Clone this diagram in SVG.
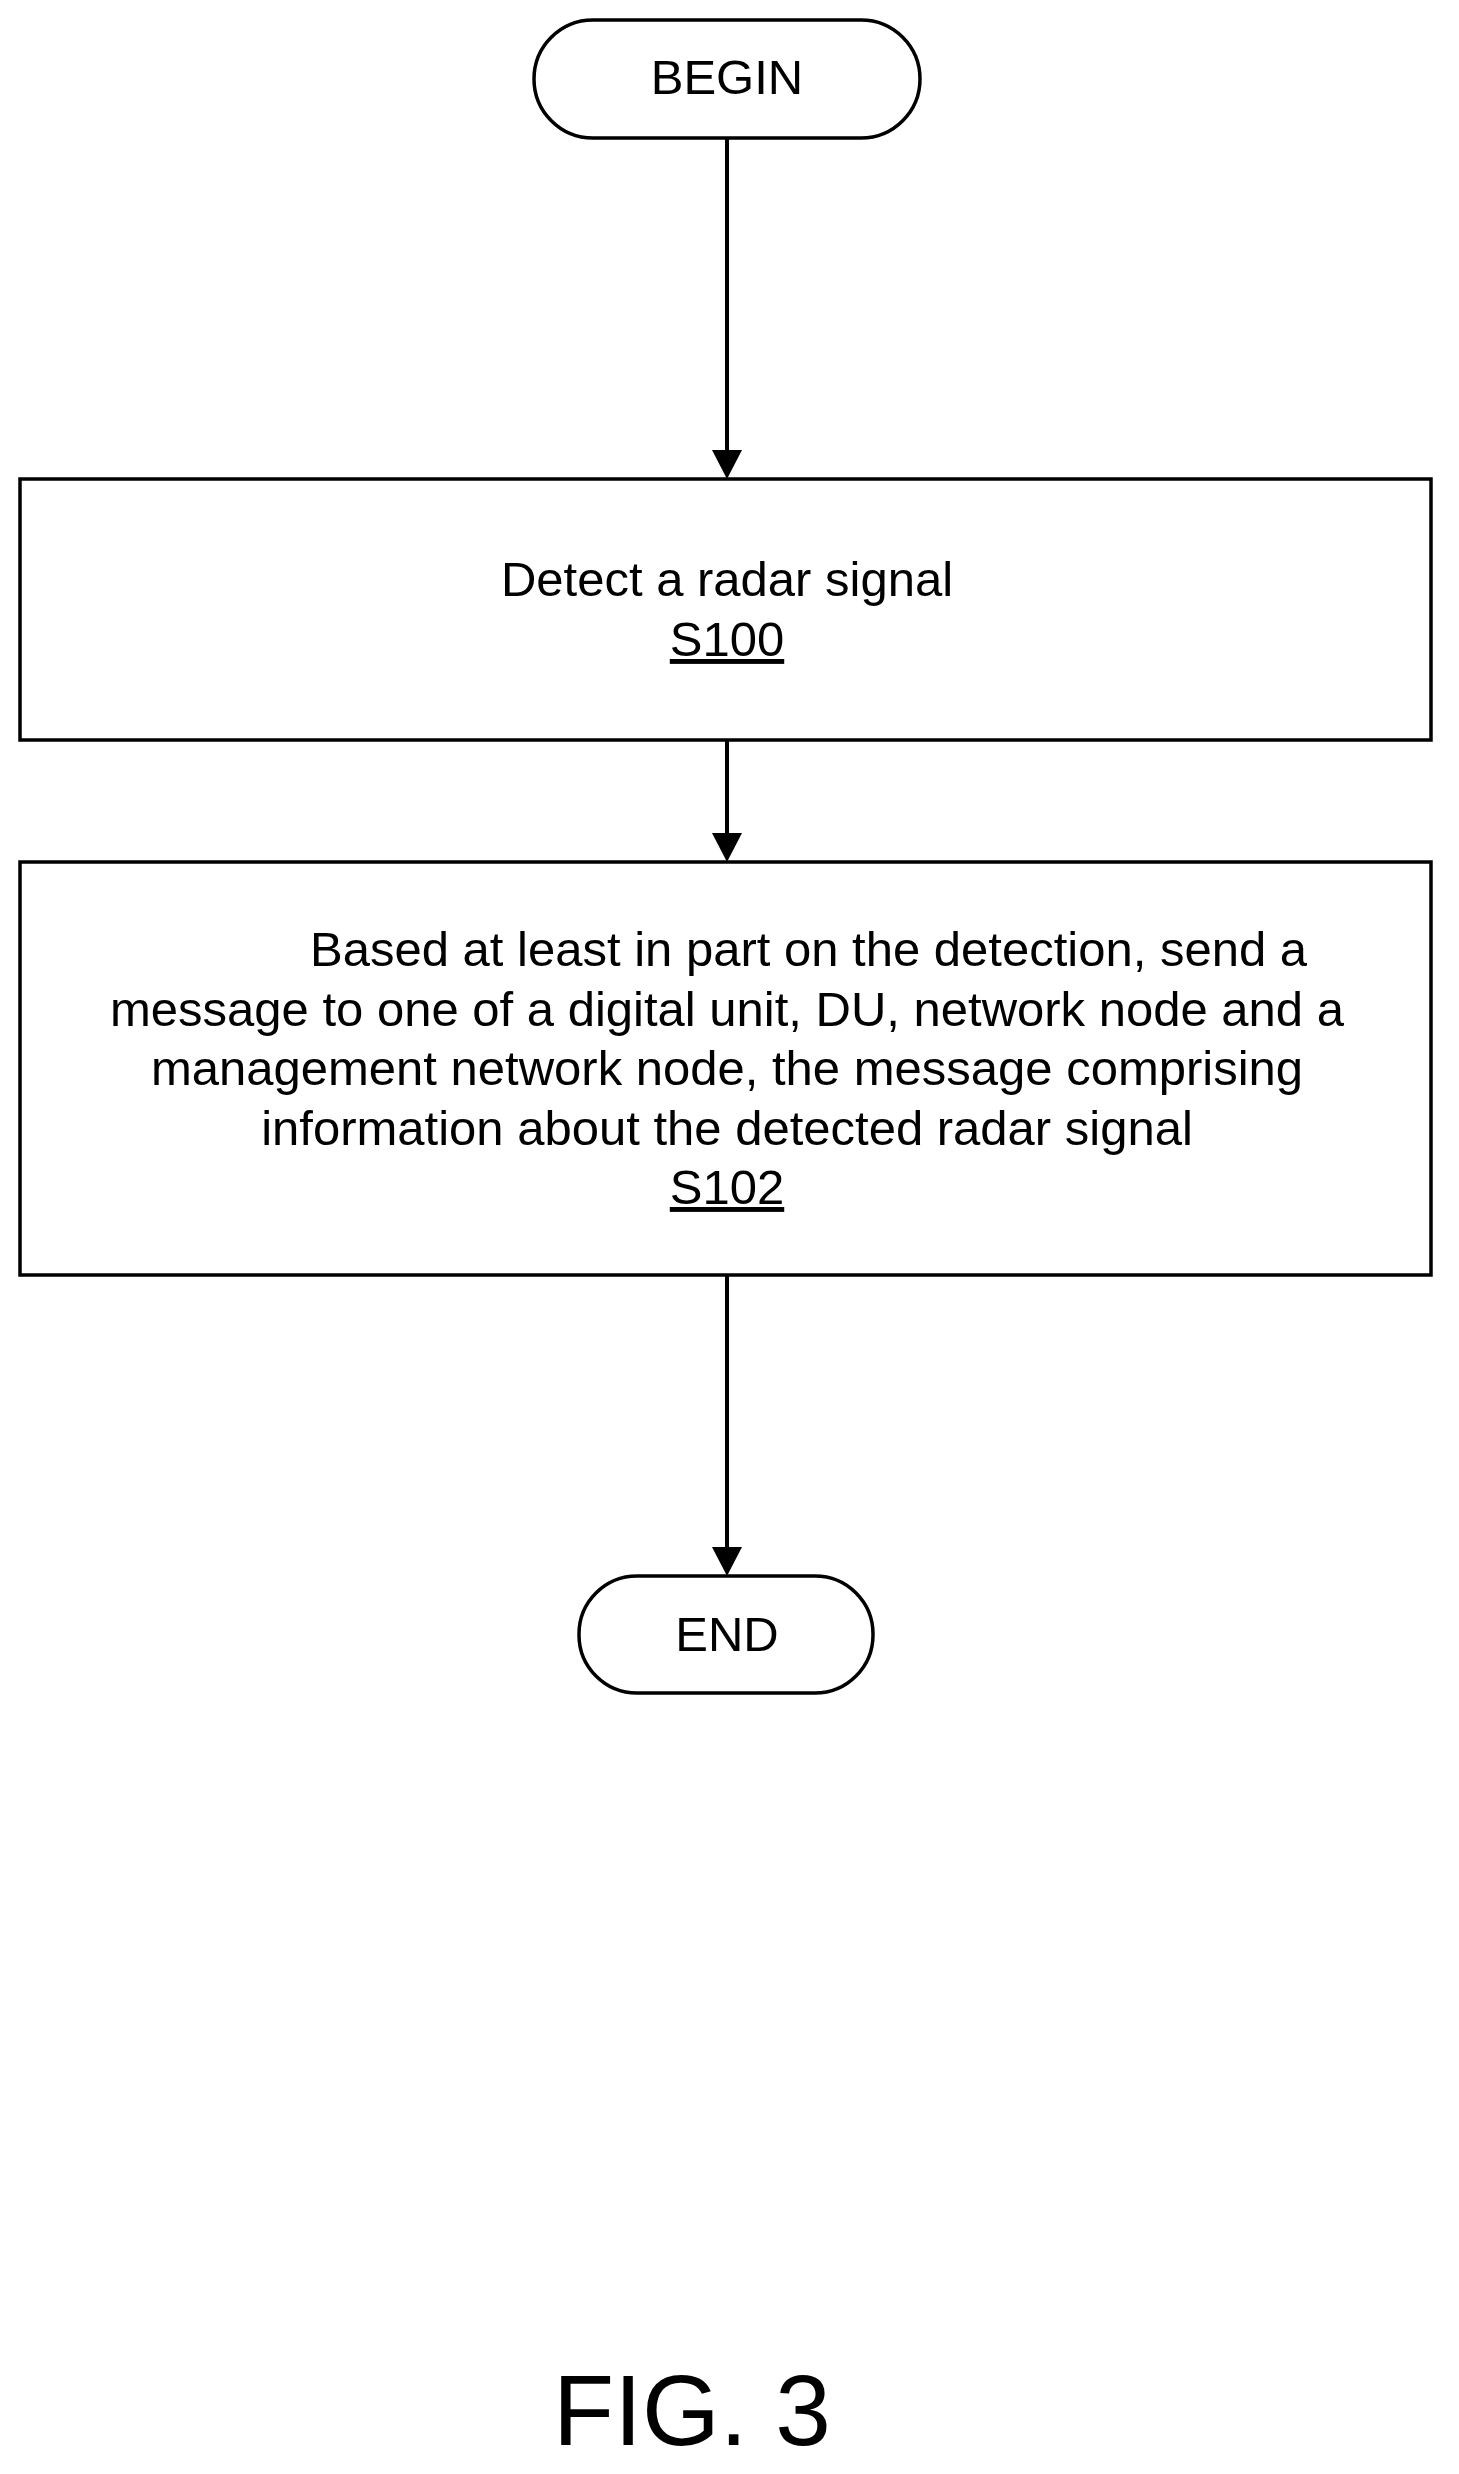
<svg xmlns="http://www.w3.org/2000/svg" width="1459" height="2474" viewBox="0 0 1459 2474">
<style>
.s{fill:#fff;stroke:#000;stroke-width:3.5}
text{font-family:"Liberation Sans",Arial,sans-serif;font-size:49px;fill:#000;text-anchor:middle}
.l{stroke:#000;stroke-width:4}
</style>
<rect width="1459" height="2474" fill="#fff"/>
<g id="connectors">
<line class="l" x1="727" y1="138" x2="727" y2="452"/><path d="M712,450L727,479L742,450z"/>
<line class="l" x1="727" y1="740" x2="727" y2="835"/><path d="M712,833L727,862L742,833z"/>
<line class="l" x1="727" y1="1275" x2="727" y2="1549"/><path d="M712,1547L727,1576L742,1547z"/>
</g>
<g id="begin"><rect class="s" x="534" y="20" width="386" height="118" rx="59"/><text x="727" y="94">BEGIN</text></g>
<g id="s100"><rect class="s" x="20" y="479" width="1411" height="261"/><text x="727" y="596">Detect a radar signal</text><text x="727" y="656" text-decoration="underline">S100</text></g>
<g id="s102"><rect class="s" x="20" y="862" width="1411" height="413"/>
<text x="310" y="966" style="text-anchor:start">Based at least in part on the detection, send a</text>
<text x="727" y="1026">message to one of a digital unit, DU, network node and a</text>
<text x="727" y="1085">management network node, the message comprising</text>
<text x="727" y="1145">information about the detected radar signal</text>
<text x="727" y="1204" text-decoration="underline">S102</text></g>
<g id="end"><rect class="s" x="579" y="1576" width="294" height="117" rx="58"/><text x="727" y="1651">END</text></g>
<text x="692" y="2445" style="font-size:100px">FIG. 3</text>
</svg>
